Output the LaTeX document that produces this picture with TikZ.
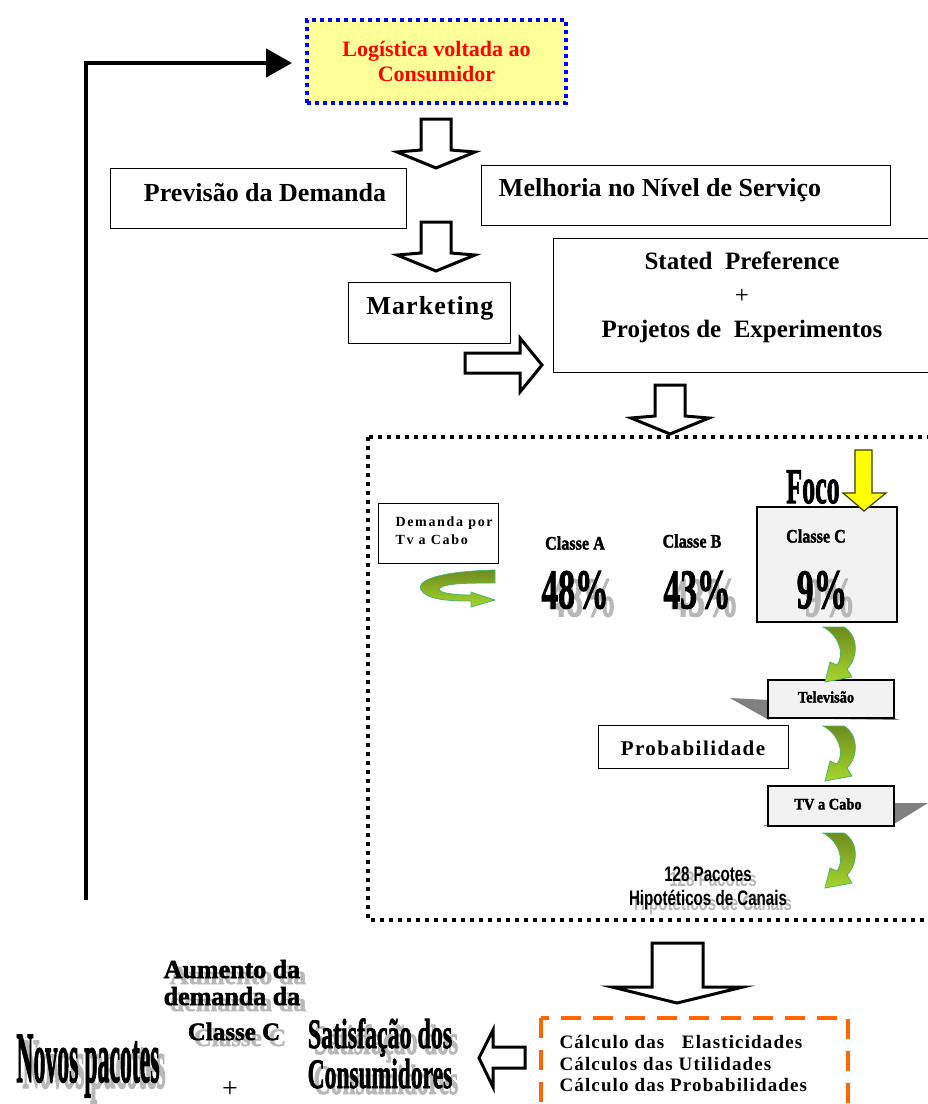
\documentclass[tikz,border=0pt]{standalone}
\usepackage{fontspec}
\setmainfont{Liberation Serif}
\setsansfont{Liberation Sans}
\usepackage{graphicx}
\usepackage{tikz}
\usetikzlibrary{calc}
\usetikzlibrary{arrows.meta}

\definecolor{logfill}{HTML}{FFFF99}
\definecolor{logblue}{HTML}{0000FF}
\definecolor{calcorange}{HTML}{FF6600}
\definecolor{boxgray}{HTML}{F2F2F2}
\definecolor{shadowgray}{HTML}{808080}
\definecolor{ghostgray}{HTML}{B8B8B8}
\definecolor{leafdark}{HTML}{6E8B1E}
\definecolor{leaflight}{HTML}{A6D62E}
\definecolor{leafline}{HTML}{4DB46A}
\definecolor{focoyellow}{HTML}{FFFF00}
\definecolor{focoline}{HTML}{3F3F00}

\newcommand{\squeeze}[2]{\scalebox{#1}[1]{#2}}

\tikzset{
  plainbox/.style={draw, line width=0.8pt, inner sep=0pt},
  thickbox/.style={draw, line width=2.5pt, fill=boxgray, inner sep=0pt},
  hollowarrow/.style={draw, line width=3pt, fill=white, line join=miter},
  leaf/.style={draw=leafline, line width=0.8pt, top color=leafdark, bottom color=leaflight},
  boxtext/.style={font=\fontsize{26}{30}\selectfont\bfseries},
  heavy/.style={font=\fontsize{#1}{#1}\selectfont\bfseries\addfontfeature{FakeBold=2}},
  heavy/.default=20,
  ghost/.style={text=ghostgray},
}

\begin{document}
\begin{tikzpicture}[x=1pt, y=-1pt]
\useasboundingbox (0,0) rectangle (928,1104);

% feedback line back to the top
\coordinate (fbfoot) at (86,900);
\coordinate (fbtip) at (292,63);
\draw[line width=4.5pt, -{Triangle[length=26pt,width=28pt]}] (fbfoot) |- (fbtip);

\node[draw=logblue, line width=4pt, dash pattern=on 4pt off 4pt, fill=logfill,
  minimum width=259pt, minimum height=83pt, text=red, align=center,
  font=\fontsize{22}{25}\selectfont\bfseries] (logist) at (436.5,61.5) {Logística voltada ao\\Consumidor};

% hollow block arrows
\foreach \ax/\ay in {436/119, 436/222, 670/385}{
  \draw[hollowarrow] (\ax-15,\ay) -- (\ax+15,\ay) -- (\ax+15,\ay+31) -- (\ax+39,\ay+33)
    -- (\ax,\ay+49) -- (\ax-39,\ay+33) -- (\ax-15,\ay+31) -- cycle;
}
\draw[hollowarrow] (465,353) -- (520,353) -- (520,338) -- (542,365) -- (520,392) -- (520,373) -- (465,373) -- cycle;
\draw[hollowarrow] (652,943) -- (703,943) -- (703,987) -- (743,987) -- (677,1003) -- (612,987) -- (652,987) -- cycle;
\draw[hollowarrow] (525,1047) -- (493,1047) -- (493,1030) -- (479,1058) -- (493,1087) -- (493,1068) -- (525,1068) -- cycle;

\node[plainbox, minimum width=296pt, minimum height=60pt] (prev) at (258,198) {};
\node[boxtext] (prevtxt) at (265,193) {Previsão da Demanda};
\node[plainbox, minimum width=409pt, minimum height=60pt] (melh) at (685.5,195) {};
\node[boxtext] (melhtxt) at (660,190) {Melhoria no Nível de Serviço};
\node[plainbox, minimum width=162pt, minimum height=61pt] (mkt) at (429,312.5) {};
\node[font=\fontsize{26}{30}\selectfont\bfseries\addfontfeature{LetterSpace=4}] (mkttxt) at (430,308) {Marketing};
\node[plainbox, minimum width=382pt, minimum height=134pt] (sp) at (744,305) {};
\node[font=\fontsize{25}{34}\selectfont\bfseries, align=center] (sptxt) at (742,297)
  {Stated \ Preference\\{\mdseries +}\\Projetos de \ Experimentos};

% dotted frame
\draw[line width=3.5pt, dash pattern=on 4pt off 5pt] (368,437) rectangle (945,920);

\node[plainbox, minimum width=120pt, minimum height=60pt] (dem) at (438,533) {};
\node[font=\fontsize{14}{18}\selectfont\bfseries\addfontfeature{LetterSpace=12}, align=left, anchor=west] (demtxt) at (392,531) {Demanda por\\Tv a Cabo};
\draw[leaf] (495,570) .. controls (450,571) and (415,578) .. (421,590)
  .. controls (427,600) and (450,601) .. (471,601) -- (471,607) -- (495,600) -- (471,592) -- (471,595)
  .. controls (450,595) and (436,592) .. (440,588) .. controls (446,583) and (470,583) .. (495,583) -- cycle;

\node[heavy=19] (clA) at (575,543) {\squeeze{0.85}{Classe A}};
\node[heavy=19] (clB) at (692,541) {\squeeze{0.85}{Classe B}};
\node[heavy=56, ghost] (p48g) at (583,598) {\squeeze{0.6}{48\%}};
\node[heavy=56] (p48) at (575,590) {\squeeze{0.6}{48\%}};
\node[heavy=56, ghost] (p43g) at (705,598) {\squeeze{0.6}{43\%}};
\node[heavy=56] (p43) at (697,590) {\squeeze{0.6}{43\%}};

\node[thickbox, minimum width=140pt, minimum height=115pt] (clC) at (827,564.5) {};
\node[heavy=19] (clCtxt) at (816,536) {\squeeze{0.85}{Classe C}};
\node[heavy=56, ghost] (p9g) at (830,598) {\squeeze{0.6}{9\%}};
\node[heavy=56] (p9) at (822,590) {\squeeze{0.6}{9\%}};

\node[heavy=50] (foco) at (813,487) {\squeeze{0.52}{Foco}};
\draw[draw=focoline, line width=1.2pt, fill=focoyellow] (855,450) -- (872,450) -- (872,493) -- (886,493)
  -- (864,511) -- (843,493) -- (855,493) -- cycle;

% shadows of the small boxes
\fill[shadowgray] (730,698) -- (769,700) -- (769,720) -- cycle;
\fill[shadowgray] (769,718) -- (900,720) -- (894,718) -- cycle;
\fill[shadowgray] (894,803) -- (928,803) -- (894,824) -- cycle;
\fill[shadowgray] (762,826) -- (769,826) -- (769,824) -- cycle;

\node[thickbox, minimum width=126pt, minimum height=38pt] (tele) at (831,699) {};
\node[heavy=16] (teletxt) at (826,697) {\squeeze{0.9}{Televisão}};
\node[thickbox, minimum width=126pt, minimum height=40pt] (tvc) at (831,806) {};
\node[heavy=16] (tvctxt) at (828,804) {\squeeze{0.9}{TV a Cabo}};

\node[plainbox, minimum width=190pt, minimum height=43pt] (prob) at (693,746.5) {};
\node[font=\fontsize{21}{25}\selectfont\bfseries\addfontfeature{LetterSpace=7}] (probtxt) at (693,748) {Probabilidade};

\foreach \ly in {627,726,833}{
  \draw[leaf, shift={(823,\ly)}] (0,0) -- (21,0) .. controls (35,8) and (36,30) .. (24,42)
    -- (29,50) -- (2,55) -- (7,35) -- (14,38) .. controls (22,28) and (16,8) .. (0,0) -- cycle;
}

\node[font=\sffamily\bfseries\fontsize{21}{24}\selectfont, ghost, align=center] (pacg) at (713,893) {\squeeze{0.72}{128 Pacotes}\\\squeeze{0.72}{Hipotéticos de Canais}};
\node[font=\sffamily\bfseries\fontsize{21}{24}\selectfont, align=center] (pac) at (708,888) {\squeeze{0.72}{128 Pacotes}\\\squeeze{0.72}{Hipotéticos de Canais}};

% bottom row
\draw[calcorange, line width=4pt, dash pattern=on 20pt off 12pt] (541,1018) rectangle (848,1115);
\node[font=\fontsize{19}{21.5}\selectfont\bfseries\addfontfeature{LetterSpace=6}, align=left, anchor=west] (calc) at (556,1064)
  {Cálculo das \ \ Elasticidades\\Cálculos das Utilidades\\Cálculo das Probabilidades};

\node[heavy=26, ghost, anchor=base] (aum1g) at (238,984) {Aumento da};
\node[heavy=26, ghost, anchor=base] (aum2g) at (238,1011) {demanda da};
\node[heavy=25, ghost, anchor=base] (aum3g) at (240,1046) {Classe C};
\node[heavy=26, anchor=base] (aum1) at (232,978) {Aumento da};
\node[heavy=26, anchor=base] (aum2) at (232,1005) {demanda da};
\node[heavy=25, anchor=base] (aum3) at (234,1040) {Classe C};

\node[heavy=42, ghost, anchor=base] (sat1g) at (386,1054) {\squeeze{0.57}{Satisfação dos}};
\node[heavy=42, ghost, anchor=base] (sat2g) at (386,1094) {\squeeze{0.56}{Consumidores}};
\node[heavy=42, anchor=base] (sat1) at (380,1048) {\squeeze{0.57}{Satisfação dos}};
\node[heavy=42, anchor=base] (sat2) at (380,1088) {\squeeze{0.56}{Consumidores}};

\node[heavy=72, ghost, anchor=base] (novg) at (94,1088) {\squeeze{0.33}{Novos pacotes}};
\node[heavy=72, anchor=base] (nov) at (88,1082) {\squeeze{0.33}{Novos pacotes}};
\node[font=\fontsize{28}{28}\selectfont, inner sep=0pt] (plus) at (230,1090) {+};

\end{tikzpicture}
\end{document}
